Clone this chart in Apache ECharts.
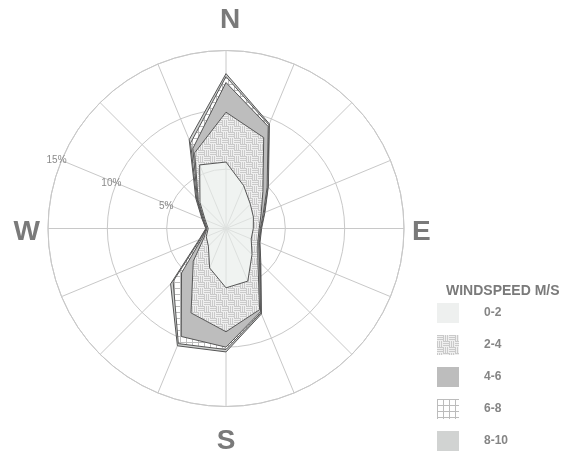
<!DOCTYPE html>
<html>
<head>
<meta charset="utf-8">
<script src="https://cdn.jsdelivr.net/npm/echarts@6/dist/echarts.min.js"></script>
<style>
  html, body { margin: 0; padding: 0; background: #fff; }
  #chart { width: 573px; height: 451px; }
</style>
</head>
<body>
<div id="chart"></div>
<script>
// 16 compass directions, clockwise from north
const directions = ['N', 'NNE', 'NE', 'ENE', 'E', 'ESE', 'SE', 'SSE', 'S', 'SSW', 'SW', 'WSW', 'W', 'WNW', 'NW', 'NNW']

// frequency (%) per speed band, stacked outward
const speed0to2 = [5.6, 3.9, 2.9, 2.5, 2.3, 2.3, 3.1, 4.8, 5.0, 3.6, 2.1, 1.8, 1.5, 1.9, 3.1, 5.8]
const speed2to4 = [4.2, 4.4, 1.5, 0.7, 0.5, 0.6, 0.7, 2.6, 3.7, 4.1, 1.8, 0.2, 0.1, 0.1, 0.2, 1.1]
const speed4to6 = [2.5, 1.0, 0.5, 0.2, 0.1, 0.1, 0.2, 0.2, 1.3, 2.15, 1.4, 0.2, 0.05, 0.1, 0.1, 0.4]
const speed6to8 = [0.5, 0.15, 0.1, 0.1, 0.05, 0.05, 0.1, 0.1, 0.2, 0.65, 1.0, 0.15, 0.03, 0.05, 0.1, 0.5]
const speed8to10 = [0.25, 0.1, 0.05, 0.05, 0.05, 0.05, 0.05, 0.1, 0.2, 0.2, 0.3, 0.1, 0.02, 0.05, 0.1, 0.3]

const bandNames = ['0-2', '2-4', '4-6', '6-8', '8-10']
const bandValues = [speed0to2, speed2to4, speed4to6, speed6to8, speed8to10]
const cardinalLabels = { 0: 'N', 90: 'E', 180: 'S', 270: 'W' }
const radiusTicks = [5, 10, 15]

const FONT = '"Liberation Sans", Arial, Helvetica, sans-serif'

// small tiled canvases used as fill patterns
const makePattern = (size, draw) => {
  const c = document.createElement('canvas')
  c.width = size
  c.height = size
  draw(c.getContext('2d'))
  return { image: c, repeat: 'repeat' }
}

// basket weave for 2-4
const weavePattern = makePattern(12, ctx => {
  ctx.fillStyle = '#efefef'
  ctx.fillRect(0, 0, 12, 12)
  ctx.fillStyle = '#cacaca'
  for (let k = 0; k < 6; k += 2) {
    ctx.fillRect(0, k, 6, 1)
    ctx.fillRect(6, 6 + k, 6, 1)
    ctx.fillRect(6 + k, 0, 1, 6)
    ctx.fillRect(k, 6, 1, 6)
  }
})

// open grid for 6-8
const gridPattern = makePattern(6, ctx => {
  ctx.fillStyle = '#ffffff'
  ctx.fillRect(0, 0, 6, 6)
  ctx.fillStyle = '#bcbcbc'
  ctx.fillRect(0, 0, 6, 1)
  ctx.fillRect(0, 0, 1, 6)
})

const areaFills = ['rgba(232,236,234,0.65)', weavePattern, '#bdbdbd', gridPattern, '#d1d3d2']
const legendFills = ['#eef0ef', weavePattern, '#bdbdbd', gridPattern, '#d1d3d2']

// polygon points [radius, angle], closed back onto north
const toPolar = values => {
  const pts = values.map((v, i) => [v, i * (360 / directions.length)])
  pts.push([values[0], 360])
  return pts
}

const series = bandNames.map((name, i) => ({
  name,
  type: 'line',
  coordinateSystem: 'polar',
  polarIndex: 0,
  stack: 'wind',
  symbol: 'none',
  z: 10 - i,
  data: toPolar(bandValues[i]),
  lineStyle: { color: '#555', width: 1 },
  itemStyle: { color: legendFills[i] },
  areaStyle: { color: areaFills[i], opacity: 1 },
}))

const chart = echarts.init(document.getElementById('chart'), null, { renderer: 'canvas' })

chart.setOption({
  animation: false,
  backgroundColor: '#fff',
  title: {
    text: 'WINDSPEED M/S',
    left: 446,
    top: 284,
    padding: 0,
    textStyle: { color: '#7a7a7a', fontSize: 14, fontWeight: 'bold', fontFamily: FONT },
  },
  legend: {
    orient: 'vertical',
    left: 437,
    top: 303,
    padding: 0,
    itemWidth: 22,
    itemHeight: 20,
    itemGap: 12,
    icon: 'rect',
    selectedMode: false,
    data: bandNames.map((name, i) => ({ name, itemStyle: { color: legendFills[i], borderWidth: 0 } })),
    textStyle: { color: '#858585', fontSize: 12, fontWeight: 'bold', fontFamily: FONT, padding: [0, 0, 0, 20] },
  },
  polar: [
    { center: [226, 228.5], radius: 178 },
    { center: [226, 228.5], radius: 178 },
  ],
  angleAxis: [
    {
      polarIndex: 0,
      type: 'value',
      min: 0,
      max: 360,
      interval: 22.5,
      startAngle: 90,
      clockwise: true,
      axisLine: { lineStyle: { color: '#c8c8c8', width: 1 } },
      axisTick: { show: false },
      splitLine: { lineStyle: { color: '#c8c8c8', width: 1 } },
      axisLabel: {
        margin: 8,
        color: '#7a7a7a',
        fontSize: 28,
        fontWeight: 'bold',
        fontFamily: FONT,
        formatter: v => {
          const t = cardinalLabels[v]
          return t ? '{' + t.toLowerCase() + '|' + t + '}' : ''
        },
        rich: {
          n: { padding: [0, 0, 8, 8] },
          s: { padding: [13, 0, 0, 0] },
          e: { padding: [8, 0, 0, 0] },
          w: { padding: [8, 0, 0, 0] },
        },
      },
    },
    {
      polarIndex: 1,
      type: 'value',
      min: 0,
      max: 360,
      startAngle: 157.5,
      show: false,
    },
  ],
  radiusAxis: [
    {
      polarIndex: 0,
      min: 0,
      max: 15,
      interval: 5,
      axisLine: { show: false },
      axisTick: { show: false },
      axisLabel: { show: false },
      splitLine: { lineStyle: { color: '#c8c8c8', width: 1 } },
    },
    {
      polarIndex: 1,
      min: 0,
      max: 15,
      interval: 5,
      axisLine: { show: false },
      axisTick: { show: false },
      splitLine: { show: false },
      axisLabel: {
        margin: 0,
        rotate: 0,
        align: 'center',
        verticalAlign: 'middle',
        color: '#8a8a8a',
        fontSize: 10,
        fontFamily: FONT,
        padding: [0, 10, 4, 0],
        formatter: v => (radiusTicks.includes(v) ? v + '%' : ''),
      },
    },
  ],
  series,
})
</script>
</body>
</html>
